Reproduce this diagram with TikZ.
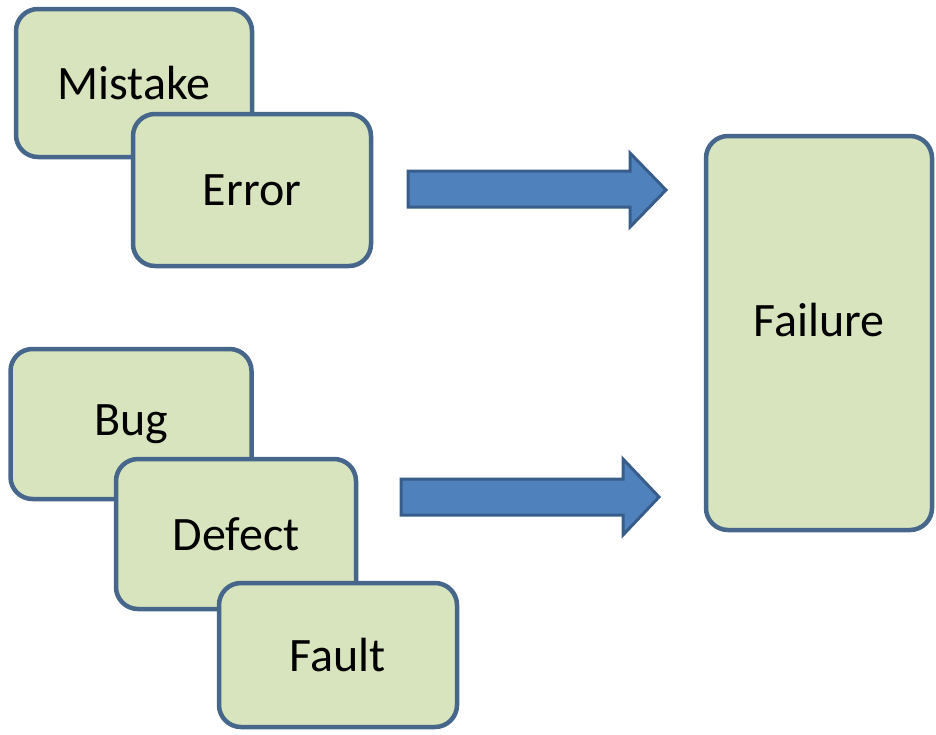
\documentclass[tikz,border=0pt]{standalone}
\usepackage{fontspec}
\setmainfont{Carlito}
\definecolor{boxfill}{HTML}{D7E4BD}
\definecolor{boxline}{HTML}{46668C}
\definecolor{arrfill}{HTML}{4F81BD}
\definecolor{arrline}{HTML}{385D8A}
\begin{document}
\begin{tikzpicture}[x=1pt,y=-1pt,
  termbox/.style={draw=boxline, fill=boxfill, line width=4.5pt, rounded corners=22pt,
    rectangle, inner sep=0pt, font=\fontsize{48}{52}\selectfont},
  blockarrow/.style={draw=arrline, fill=arrfill, line width=3pt, line join=miter}]
\useasboundingbox (0,0) rectangle (936,734);
% top group
\node[termbox, minimum width=236pt, minimum height=148pt] (mistake) at (134,83) {Mistake};
\node[termbox, minimum width=238pt, minimum height=152pt] (error) at (252,190) {Error};
% bottom group
\node[termbox, minimum width=241pt, minimum height=150pt] (bug) at (131,424) {Bug};
\node[termbox, minimum width=240pt, minimum height=150pt] (defect) at (236,534) {Defect};
\node[termbox, minimum width=238pt, minimum height=144pt] (fault) at (338,655) {Fault};
% failure
\node[termbox, minimum width=226pt, minimum height=394pt] (failure) at (819,333) {\raisebox{26pt}{Failure}};
% block arrows
\draw[blockarrow] (408,171) -- (630,171) -- (630,153) -- (666,190) -- (630,227) -- (630,207) -- (408,207) -- cycle;
\draw[blockarrow] (401,479) -- (623,479) -- (623,459) -- (659,497) -- (623,535) -- (623,515) -- (401,515) -- cycle;
\end{tikzpicture}
\end{document}
